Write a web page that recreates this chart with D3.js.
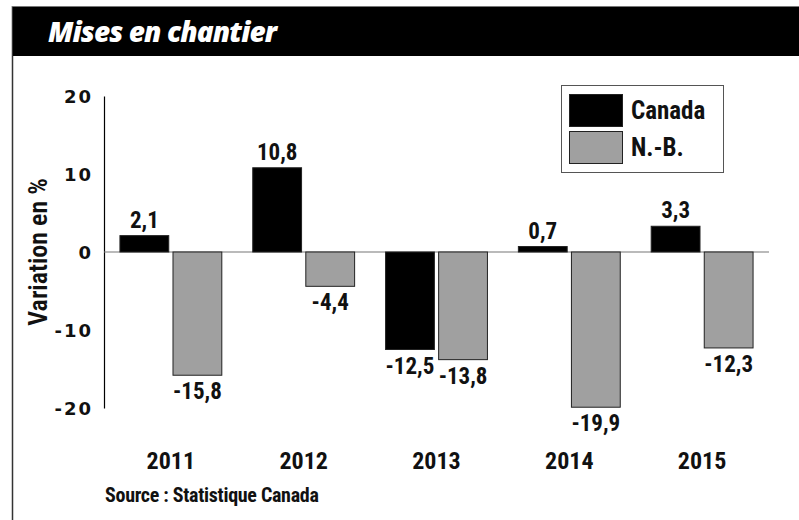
<!DOCTYPE html>
<html><head><meta charset="utf-8">
<script src="https://cdn.jsdelivr.net/npm/d3@7"></script>
<style>
body{margin:0;background:#fff;}
svg{display:block;}
</style></head>
<body>
<svg id="c" width="799" height="520"></svg>
<script>
const years = ["2011","2012","2013","2014","2015"];
const series = ["Canada","N.-B."];
const canada = [2.1, 10.8, -12.5, 0.7, 3.3];
const nb = [-15.8, -4.4, -13.8, -19.9, -12.3];
const yTicks = [-20, -10, 0, 10, 20];
const colors = ["#000000", "#a0a0a0"];
const title = "Mises en chantier";
const yLabel = "Variation en %";
const source = "Source : Statistique Canada";

const svg = d3.select("#c");
const cond = "'Liberation Sans Narrow','Roboto Condensed','Arial Narrow',Roboto,sans-serif";

// frame
svg.append("line").attr("x1",12.5).attr("x2",12.5).attr("y1",6).attr("y2",520).attr("stroke","#333").attr("stroke-width",1.5);
svg.append("line").attr("x1",12).attr("x2",799).attr("y1",6.5).attr("y2",6.5).attr("stroke","#777").attr("stroke-width",1);
svg.append("rect").attr("x",13).attr("y",7).attr("width",786).attr("height",49).attr("fill","#000");
svg.append("text").attr("x",48).attr("y",42).text(title)
  .attr("fill","#fff").attr("font-family","'Open Sans',sans-serif").attr("font-weight","800")
  .attr("font-style","italic").attr("font-size",28).attr("letter-spacing",-0.9);

const y = d3.scaleLinear().domain([-20,20]).range([408,96]);
const x0 = d3.scaleBand().domain(years).range([104,769]).paddingInner(0.233).paddingOuter(0.12);
const x1 = d3.scaleBand().domain(series).range([0,x0.bandwidth()]).paddingInner(0.08);

// y axis
const yAxis = d3.axisLeft(y).tickValues(yTicks).tickSize(0).tickPadding(11).tickFormat(d => String(d));
const ga = svg.append("g").attr("transform","translate(104,0)").call(yAxis);
ga.select(".domain").attr("stroke","#000").attr("stroke-width",1.2);
ga.selectAll("text").attr("font-family","'DejaVu Sans',Verdana,sans-serif").attr("font-weight","bold")
  .attr("font-size",18).attr("letter-spacing",2).attr("fill","#111").attr("dy","0.35em");

// zero line
svg.append("line").attr("x1",104).attr("x2",769).attr("y1",y(0)).attr("y2",y(0)).attr("stroke","#777").attr("stroke-width",1.2);

const data = years.map((yr,i)=>({year:yr, vals:[{s:series[0],v:canada[i],c:colors[0]},{s:series[1],v:nb[i],c:colors[1]}]}));
const g = svg.append("g");
const groups = g.selectAll("g.grp").data(data).join("g").attr("transform",d=>`translate(${x0(d.year)},0)`);
groups.selectAll("rect").data(d=>d.vals).join("rect")
  .attr("x",d=>x1(d.s)).attr("width",x1.bandwidth())
  .attr("y",d=>y(Math.max(0,d.v))).attr("height",d=>Math.abs(y(d.v)-y(0)))
  .attr("fill",d=>d.c).attr("stroke","#222").attr("stroke-width",1);
const fmt = v => String(v).replace(".",",");
groups.selectAll("text").data(d=>d.vals).join("text")
  .attr("x",d=>x1(d.s)+x1.bandwidth()/2)
  .attr("y",d=>d.v>=0 ? y(d.v)-8 : y(d.v)+24)
  .attr("text-anchor","middle").attr("font-family",cond).attr("font-weight","bold")
  .attr("font-size",23).attr("fill","#111").text(d=>fmt(d.v));

// x labels
svg.append("g").selectAll("text").data(years).join("text")
  .attr("x",d=>x0(d)+x0.bandwidth()/2).attr("y",469).attr("text-anchor","middle")
  .attr("font-family",cond).attr("font-weight","bold").attr("font-size",24).attr("fill","#111").text(d=>d);

svg.append("text").attr("x",105).attr("y",502).text(source)
  .attr("font-family",cond).attr("font-weight","bold").attr("font-size",20).attr("letter-spacing",-0.3).attr("fill","#111");

// y label
svg.append("text").attr("transform","translate(47,252) rotate(-90)").attr("text-anchor","middle")
  .attr("font-family",cond).attr("font-weight","600").attr("font-size",26).attr("fill","#111").text(yLabel);

// legend
const lg = svg.append("g");
lg.append("rect").attr("x",561.5).attr("y",85.5).attr("width",162).attr("height",87).attr("fill","#fff").attr("stroke","#555").attr("stroke-width",1);
series.forEach((s,i)=>{
  lg.append("rect").attr("x",569.5).attr("y",94.5+i*37).attr("width",53).attr("height",32).attr("fill",colors[i]).attr("stroke","#222");
  lg.append("text").attr("x",631).attr("y",119+i*37).text(s)
    .attr("font-family",cond).attr("font-weight","bold").attr("font-size",25).attr("fill","#111");
});
</script>
</body></html>
